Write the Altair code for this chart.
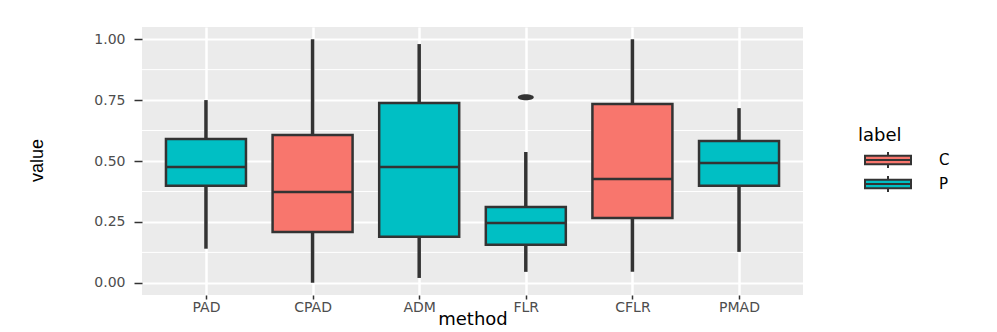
import altair as alt
import pandas as pd

methods = ["PAD", "CPAD", "ADM", "FLR", "CFLR", "PMAD"]
labels = ["P", "C", "P", "P", "C", "P"]
lower = [0.14, 0.0, 0.02, 0.045, 0.045, 0.127]
q1 = [0.398, 0.209, 0.189, 0.156, 0.266, 0.398]
median = [0.475, 0.373, 0.475, 0.246, 0.426, 0.492]
q3 = [0.59, 0.607, 0.738, 0.311, 0.734, 0.582]
upper = [0.75, 1.0, 0.98, 0.537, 1.0, 0.717]
outlier_methods = ["FLR"]
outlier_values = [0.762]
major_breaks = [0.0, 0.25, 0.5, 0.75, 1.0]
minor_breaks = [0.125, 0.375, 0.625, 0.875]
label_levels = ["C", "P"]
label_colors = ["#F8766D", "#00BFC4"]

df = pd.DataFrame(dict(method=methods, label=labels, lower=lower, q1=q1,
                       median=median, q3=q3, upper=upper))
out_df = pd.DataFrame(dict(method=outlier_methods, value=outlier_values))
minor_df = pd.DataFrame(dict(value=minor_breaks))

DARK = "#333333"
GREY = "#4D4D4D"
FONT = "DejaVu Sans"

xscale = alt.Scale(type="point", padding=0.6, domain=methods)
yscale = alt.Scale(domain=[-0.05, 1.05], nice=False, zero=False)

x_axis = alt.Axis(title="method", grid=True, gridColor="white", gridWidth=2.5,
                  domain=False, tickColor=DARK, tickSize=4, tickWidth=1.5,
                  labelColor=GREY, labelFontSize=14, labelFont=FONT, labelPadding=1,
                  labelAngle=0, titleFont=FONT, titleFontSize=18,
                  titleFontWeight="normal", titleColor="black",
                  titleY=29, titleBaseline="alphabetic")
y_axis = alt.Axis(title="value", values=major_breaks, format=".2f", grid=True,
                  gridColor="white", gridWidth=2, domain=False, tickColor=DARK,
                  tickSize=8, tickWidth=1.5, labelColor=GREY, labelFontSize=14,
                  labelFont=FONT, labelPadding=9, titleFont="Liberation Sans",
                  titleFontSize=18, titleFontWeight="normal", titleColor="black",
                  titleAngle=-90, titleX=-96, titleY=133, titleBaseline="bottom",
                  titleAlign="center")

base = alt.Chart(df)

minor = alt.Chart(minor_df).mark_rule(color="white", strokeWidth=1).encode(
    y=alt.Y("value:Q", scale=yscale, axis=y_axis)
)

whisk = base.mark_rule(color=DARK, strokeWidth=3.5).encode(
    x=alt.X("method:N", scale=xscale, axis=x_axis, sort=methods),
    y=alt.Y("lower:Q", scale=yscale),
    y2="upper:Q",
)

legend_path = ("M-0.4,-0.42H4.2V0.42H-0.4Z M-0.4,0H4.2 "
               "M1.9,-0.42V-0.8 M1.9,0.42V0.8")

box = base.mark_bar(size=80, stroke=DARK, strokeWidth=2.5, opacity=1).encode(
    x=alt.X("method:N", scale=xscale, sort=methods),
    y=alt.Y("q1:Q", scale=yscale),
    y2="q3:Q",
    color=alt.Color("label:N",
                    scale=alt.Scale(domain=label_levels, range=label_colors),
                    legend=alt.Legend(title="label", orient="none",
                                      legendX=716, legendY=100, padding=0,
                                      symbolType=legend_path, symbolSize=400,
                                      symbolStrokeColor=DARK, symbolStrokeWidth=2,
                                      symbolOpacity=1, labelOffset=59,
                                      labelFont=FONT, labelFontSize=15,
                                      labelColor="black", titleFont=FONT,
                                      titleFontSize=18, titleFontWeight="normal",
                                      titleColor="black", titlePadding=4,
                                      rowPadding=0)),
)

med = base.mark_tick(color=DARK, size=80, thickness=2.5, opacity=1).encode(
    x=alt.X("method:N", scale=xscale, sort=methods),
    y=alt.Y("median:Q", scale=yscale),
)

ellipse = "M-1,0A1,0.38 0 1,0 1,0A1,0.38 0 1,0 -1,0Z"
outl = alt.Chart(out_df).mark_point(shape=ellipse, size=256, filled=True,
                                    color=DARK, opacity=1).encode(
    x=alt.X("method:N", scale=xscale, sort=methods),
    y=alt.Y("value:Q", scale=yscale),
)

chart = alt.layer(minor, whisk, box, med, outl).properties(
    width=661, height=268,
    autosize=alt.AutoSizeParams(type="none"),
    padding={"left": 134, "top": 19, "right": 186, "bottom": 35},
).configure_view(fill="#EBEBEB", strokeWidth=0)

chart.save("out.html", embed_options={"renderer": "svg", "actions": False})
